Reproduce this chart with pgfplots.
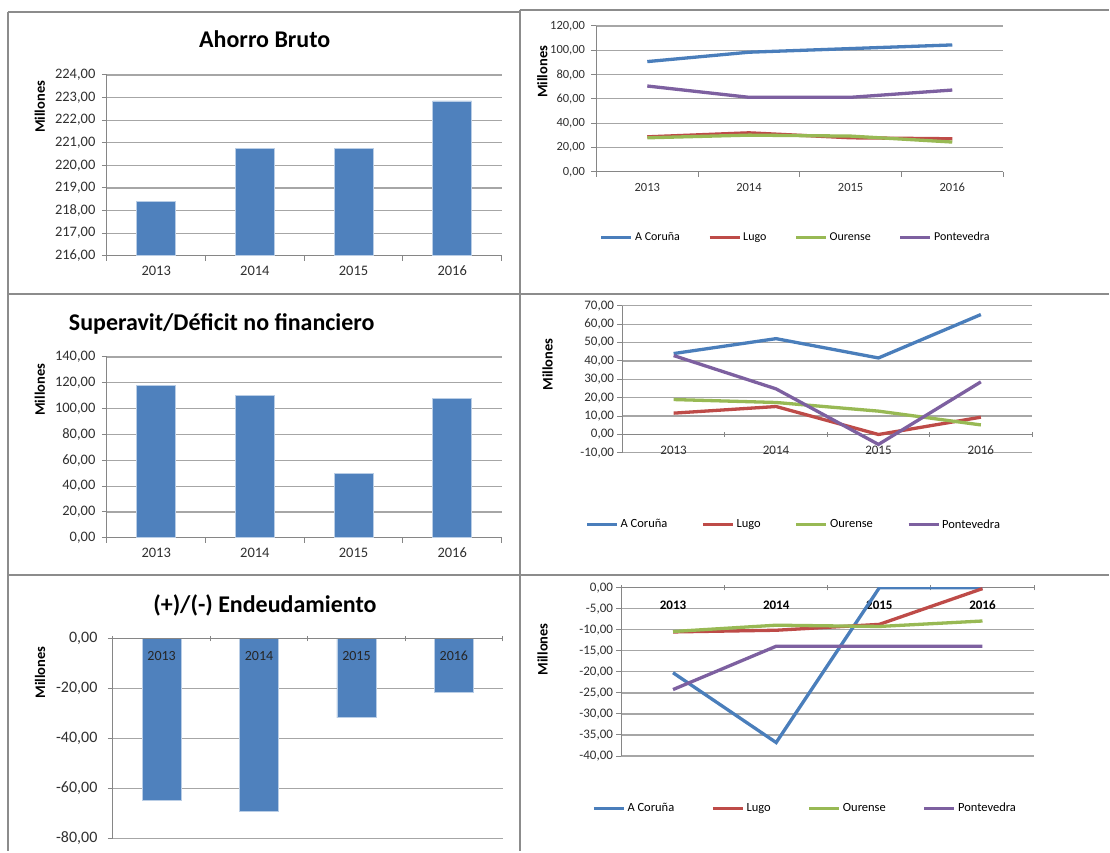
\documentclass[border=0pt]{standalone}
\usepackage{fontspec}
\setmainfont{Carlito}
\usepackage{pgfplots}
\usepackage{pgfplotstable}
\pgfplotsset{compat=1.18}
\definecolor{barblue}{HTML}{4F81BD}
\definecolor{barline}{HTML}{B9CDE5}
\definecolor{cblue}{HTML}{4A7EBB}
\definecolor{cred}{HTML}{BE4B48}
\definecolor{cgreen}{HTML}{98B954}
\definecolor{cpurple}{HTML}{7D60A0}
\definecolor{axisgray}{HTML}{868686}
\definecolor{gridgray}{HTML}{A6A6A6}
\definecolor{framegray}{HTML}{8C8C8C}
\definecolor{ticktext}{HTML}{303030}

\pgfplotstableread{
x ac lugo our pont
0 90.7 28.8 28.0 70.6
1 98.4 32.1 30.2 61.3
2 101.4 28.0 29.4 61.3
3 104.4 27.2 24.5 67.3
}\tabA
\pgfplotstableread{
x ac lugo our pont
0 44.0 11.6 19.0 42.9
1 52.1 15.2 17.4 24.8
2 41.6 0.0 12.7 -5.4
3 65.2 9.4 5.2 28.6
}\tabB
\pgfplotstableread{
x ac lugo our pont
0 -20.2 -10.5 -10.4 -24.2
1 -36.8 -10.1 -8.9 -13.9
2 0.0 -8.7 -9.2 -13.9
3 0.0 -0.2 -7.9 -13.9
}\tabC

\pgfplotsset{
  panel/.style={
    scale only axis, anchor=south west,
    xmin=-0.5, xmax=3.5,
    xtick={-0.5,0.5,1.5,2.5,3.5},
    x tick label as interval,
    xticklabels={2013,2014,2015,2016},
    hide obscured x ticks=false,
    axis y line*=left,
    axis line style={draw=axisgray, line width=1pt},
    x axis line style={-}, y axis line style={-},
    tick style={draw=axisgray, line width=1pt},
    tick align=outside, major tick length=5pt,
    ymajorgrids,
    grid style={draw=gridgray, line width=1.2pt},
    /pgf/number format/assume math mode=true,
    yticklabel style={/pgf/number format/fixed, /pgf/number format/fixed zerofill, /pgf/number format/precision=2, /pgf/number format/use comma, /pgf/number format/1000 sep={}},
    xticklabel style={anchor=north, text height=0.66em, text depth=0pt},
    tick label style={text=ticktext},
    ylabel={Millones},
    ylabel style={font=\bfseries\fontsize{14.5}{14.5}\selectfont, anchor=center, text=black},
    title style={font=\bfseries\fontsize{24}{24}\selectfont, anchor=center, text=black},
    legend image code/.code={\draw[##1, line width=3.3pt] (0pt,0pt) -- (30pt,0pt);},
    legend columns=4,
  },
  lineplot/.style={line width=3.3pt, no marks},
  barplot/.style={ybar, bar width=39pt, fill=barblue, draw=barline, line width=0.8pt},
}

\begin{document}
\begin{tikzpicture}
\fill[white] (0pt,0pt) rectangle (1110pt,852pt);

% Panel 1: Ahorro Bruto
\begin{axis}[panel, at={(107pt,596pt)}, width=395pt, height=181pt,
  ymin=216, ymax=224, ytick distance=1, axis x line*=bottom,
  tick label style={font=\fontsize{14.5}{14.5}\selectfont},
  xticklabel style={yshift=-5pt}, yticklabel style={xshift=-3pt},
  title={Ahorro Bruto}, title style={at={(axis description cs:0.4,1.165)}},
  ylabel style={at={(axis description cs:-0.170,0.823)}}]
\addplot[barplot] coordinates {(0,218.39) (1,220.75) (2,220.73) (3,222.85)};
\end{axis}

% Panel 2
\begin{axis}[panel, at={(597pt,680pt)}, width=407pt, height=146pt,
  ymin=0, ymax=120, ytick distance=20, axis x line*=bottom,
  tick label style={font=\fontsize{12.5}{12.5}\selectfont},
  xticklabel style={yshift=-5pt}, yticklabel style={xshift=-3pt},
  ylabel style={at={(axis description cs:-0.133,0.685)}},
  legend style={at={(axis description cs:0.49,-0.45)}, anchor=center, draw=none, fill=none,
    font=\fontsize{12}{12}\selectfont, /tikz/every even column/.append style={column sep=26pt}}]
\addplot[lineplot, cblue] table[x=x, y=ac] {\tabA};
\addplot[lineplot, cred] table[x=x, y=lugo] {\tabA};
\addplot[lineplot, cgreen] table[x=x, y=our] {\tabA};
\addplot[lineplot, cpurple] table[x=x, y=pont] {\tabA};
\legend{A Coruña, Lugo, Ourense, Pontevedra}
\end{axis}

% Panel 3: Superavit
\begin{axis}[panel, at={(107pt,313.7pt)}, width=395pt, height=181pt,
  ymin=0, ymax=140, ytick distance=20, axis x line*=bottom,
  tick label style={font=\fontsize{14.5}{14.5}\selectfont},
  xticklabel style={yshift=-5pt}, yticklabel style={xshift=-3pt},
  title={Superavit/Déficit no financiero}, title style={at={(axis description cs:0.291,1.152)}},
  ylabel style={at={(axis description cs:-0.170,0.819)}}]
\addplot[barplot] coordinates {(0,117.8) (1,110.1) (2,49.8) (3,108.0)};
\end{axis}

% Panel 4
\begin{axis}[panel, at={(623pt,398.7pt)}, width=410pt, height=147.3pt,
  ymin=-10, ymax=70, ytick distance=10, axis x line=middle,
  x axis line style={-}, y axis line style={-},
  tick label style={font=\fontsize{13}{13}\selectfont},
  xticklabel style={yshift=-7pt},
  ylabel style={at={(axis description cs:-0.183,0.60)}},
  legend style={at={(axis description cs:0.418,-0.487)}, anchor=center, draw=none, fill=none,
    font=\fontsize{12.5}{12.5}\selectfont, /tikz/every even column/.append style={column sep=32pt}}]
\addplot[lineplot, cblue] table[x=x, y=ac] {\tabB};
\addplot[lineplot, cred] table[x=x, y=lugo] {\tabB};
\addplot[lineplot, cgreen] table[x=x, y=our] {\tabB};
\addplot[lineplot, cpurple] table[x=x, y=pont] {\tabB};
\legend{A Coruña, Lugo, Ourense, Pontevedra}
\end{axis}

% Panel 5: Endeudamiento (bars + grid)
\begin{axis}[panel, at={(113pt,13pt)}, width=390pt, height=199.7pt,
  ymin=-80, ymax=0, ytick distance=20, axis x line=middle,
  x axis line style={-}, y axis line style={-},
  xticklabels={},
  yticklabel style={font=\fontsize{16}{16}\selectfont, xshift=-7pt},
  title={(+)/(-) Endeudamiento}, title style={at={(axis description cs:0.39,1.137)}},
  ylabel style={at={(axis description cs:-0.187,0.831)}}]
\addplot[barplot] coordinates {(0,-65.0) (1,-69.2) (2,-31.7) (3,-21.6)};
\end{axis}
% Panel 5 overlay: category axis on top of the bars
\begin{axis}[panel, at={(113pt,13pt)}, width=390pt, height=199.7pt,
  ymin=-80, ymax=0, axis x line=middle, axis y line=none,
  ymajorgrids=false, ylabel={},
  x axis line style={-},
  xticklabel style={font=\fontsize{14}{14}\selectfont, text=black!85, yshift=-9pt}]
\end{axis}

% Panel 6
\begin{axis}[panel, at={(622pt,95.3pt)}, width=413pt, height=168.4pt,
  ymin=-40, ymax=0, ytick distance=5, axis x line=middle,
  x axis line style={-}, y axis line style={-},
  yticklabel style={font=\fontsize{13}{13}\selectfont},
  xticklabel style={font=\bfseries\fontsize{13}{13}\selectfont, text=black, yshift=-9pt},
  ylabel style={at={(axis description cs:-0.191,0.634)}},
  legend style={at={(axis description cs:0.445,-0.311)}, anchor=center, draw=none, fill=none,
    font=\fontsize{12.5}{12.5}\selectfont, /tikz/every even column/.append style={column sep=35pt}}]
\addplot[lineplot, cblue] table[x=x, y=ac] {\tabC};
\addplot[lineplot, cred] table[x=x, y=lugo] {\tabC};
\addplot[lineplot, cgreen] table[x=x, y=our] {\tabC};
\addplot[lineplot, cpurple] table[x=x, y=pont] {\tabC};
\legend{A Coruña, Lugo, Ourense, Pontevedra}
\end{axis}

% frames
\begin{scope}[draw=framegray, line width=2pt]
\draw (8pt,840pt) -- (520pt,840pt);
\draw (8pt,840pt) -- (8pt,0pt);
\draw (520pt,842pt) -- (520pt,0pt);
\draw (520pt,842pt) -- (1110pt,842pt);
\draw (8pt,558pt) -- (1110pt,558pt);
\draw (8pt,276pt) -- (1110pt,276pt);
\end{scope}
\end{tikzpicture}
\end{document}
